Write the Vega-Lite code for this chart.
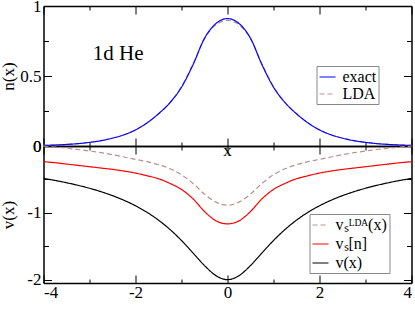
{
  "$schema": "https://vega.github.io/schema/vega-lite/v6.json",
  "padding": {"left": -0.5, "top": -3, "right": 5, "bottom": 2},
  "spacing": 0,
  "bounds": "flush",
  "config": {
    "font": "Liberation Serif",
    "view": {"stroke": null},
    "axis": {
      "grid": false,
      "labelFont": "Liberation Serif",
      "labelFontSize": 17,
      "labelColor": "black",
      "titleFont": "Liberation Serif",
      "titleFontSize": 17,
      "titleFontWeight": "normal",
      "titleColor": "black",
      "tickColor": "black",
      "tickWidth": 1,
      "domainColor": "black",
      "domainWidth": 1.5
    },
    "legend": {
      "labelFont": "Liberation Serif",
      "labelFontSize": 16,
      "labelColor": "black",
      "strokeColor": "#888888",
      "fillColor": "white",
      "padding": 2,
      "symbolType": "stroke",
      "symbolSize": 256,
      "symbolStrokeWidth": 1.2,
      "labelOffset": 6,
      "cornerRadius": 0
    }
  },
  "datasets": {
    "d": [
      {"x": -4, "exact": 0.004, "LDA": 0.004, "v": -0.4851, "vs": -0.235, "vlda": -0.003},
      {"x": -3.75, "exact": 0.007, "LDA": 0.007, "v": -0.5153, "vs": -0.25, "vlda": -0.015},
      {"x": -3.5, "exact": 0.011, "LDA": 0.011, "v": -0.5494, "vs": -0.27, "vlda": -0.032},
      {"x": -3.25, "exact": 0.017, "LDA": 0.017, "v": -0.5881, "vs": -0.29, "vlda": -0.052},
      {"x": -3, "exact": 0.026, "LDA": 0.026, "v": -0.6325, "vs": -0.31, "vlda": -0.075},
      {"x": -2.75, "exact": 0.038, "LDA": 0.038, "v": -0.6835, "vs": -0.33, "vlda": -0.1},
      {"x": -2.5, "exact": 0.056, "LDA": 0.056, "v": -0.7428, "vs": -0.35, "vlda": -0.13},
      {"x": -2.25, "exact": 0.08, "LDA": 0.08, "v": -0.8122, "vs": -0.375, "vlda": -0.165},
      {"x": -2, "exact": 0.115, "LDA": 0.115, "v": -0.8944, "vs": -0.405, "vlda": -0.2},
      {"x": -1.75, "exact": 0.165, "LDA": 0.165, "v": -0.9923, "vs": -0.445, "vlda": -0.235},
      {"x": -1.5, "exact": 0.23, "LDA": 0.23, "v": -1.1094, "vs": -0.49, "vlda": -0.28},
      {"x": -1.25, "exact": 0.31, "LDA": 0.31, "v": -1.2494, "vs": -0.56, "vlda": -0.34},
      {"x": -1, "exact": 0.42, "LDA": 0.425, "v": -1.4142, "vs": -0.65, "vlda": -0.43},
      {"x": -0.75, "exact": 0.58, "LDA": 0.585, "v": -1.6, "vs": -0.79, "vlda": -0.56},
      {"x": -0.5, "exact": 0.77, "LDA": 0.765, "v": -1.7889, "vs": -0.98, "vlda": -0.72},
      {"x": -0.25, "exact": 0.875, "LDA": 0.866, "v": -1.9403, "vs": -1.12, "vlda": -0.84},
      {"x": 0, "exact": 0.91, "LDA": 0.897, "v": -2, "vs": -1.165, "vlda": -0.885},
      {"x": 0.25, "exact": 0.875, "LDA": 0.866, "v": -1.9403, "vs": -1.12, "vlda": -0.84},
      {"x": 0.5, "exact": 0.77, "LDA": 0.765, "v": -1.7889, "vs": -0.98, "vlda": -0.72},
      {"x": 0.75, "exact": 0.58, "LDA": 0.585, "v": -1.6, "vs": -0.79, "vlda": -0.56},
      {"x": 1, "exact": 0.42, "LDA": 0.425, "v": -1.4142, "vs": -0.65, "vlda": -0.43},
      {"x": 1.25, "exact": 0.31, "LDA": 0.31, "v": -1.2494, "vs": -0.56, "vlda": -0.34},
      {"x": 1.5, "exact": 0.23, "LDA": 0.23, "v": -1.1094, "vs": -0.49, "vlda": -0.28},
      {"x": 1.75, "exact": 0.165, "LDA": 0.165, "v": -0.9923, "vs": -0.445, "vlda": -0.235},
      {"x": 2, "exact": 0.115, "LDA": 0.115, "v": -0.8944, "vs": -0.405, "vlda": -0.2},
      {"x": 2.25, "exact": 0.08, "LDA": 0.08, "v": -0.8122, "vs": -0.375, "vlda": -0.165},
      {"x": 2.5, "exact": 0.056, "LDA": 0.056, "v": -0.7428, "vs": -0.35, "vlda": -0.13},
      {"x": 2.75, "exact": 0.038, "LDA": 0.038, "v": -0.6835, "vs": -0.33, "vlda": -0.1},
      {"x": 3, "exact": 0.026, "LDA": 0.026, "v": -0.6325, "vs": -0.31, "vlda": -0.075},
      {"x": 3.25, "exact": 0.017, "LDA": 0.017, "v": -0.5881, "vs": -0.29, "vlda": -0.052},
      {"x": 3.5, "exact": 0.011, "LDA": 0.011, "v": -0.5494, "vs": -0.27, "vlda": -0.032},
      {"x": 3.75, "exact": 0.007, "LDA": 0.007, "v": -0.5153, "vs": -0.25, "vlda": -0.015},
      {"x": 4, "exact": 0.004, "LDA": 0.004, "v": -0.4851, "vs": -0.235, "vlda": -0.003}
    ],
    "lab1": [{"x": -2.93, "y": 0.66, "t": "1d He"}],
    "lab2": [{"x": 0, "y": 0, "t": "x"}]
  },
  "resolve": {"scale": {"color": "independent", "strokeDash": "independent"}},
  "vconcat": [
    {
      "width": 368,
      "height": 140,
      "resolve": {"axis": {"x": "independent", "y": "independent"}},
      "layer": [
        {
          "data": {"name": "d"},
          "transform": [{"fold": ["LDA", "exact"], "as": ["s", "y"]}],
          "mark": {"type": "line", "interpolate": "monotone", "strokeWidth": 1.2},
          "encoding": {
            "x": {"field": "x", "type": "quantitative", "scale": {"domain": [-4, 4], "nice": false},
              "axis": {"orient": "bottom", "title": null, "labels": false, "values": [-4, -3, -2, -1, 0, 1, 2, 3, 4],
                "tickSize": {"condition": {"test": "datum.value % 2 === 0", "value": -8}, "value": -4}}},
            "y": {"field": "y", "type": "quantitative", "scale": {"domain": [0, 1], "nice": false, "zero": false},
              "axis": {"orient": "left", "title": "n(x)", "titlePadding": 2, "labelPadding": 10.5, "values": [0, 0.25, 0.5, 0.75, 1],
                "labelExpr": "datum.value == 0 ? '0' : datum.value == 0.5 ? '0.5' : datum.value == 1 ? '1' : ''",
                "tickSize": {"condition": {"test": "datum.value == 0 || datum.value == 0.5 || datum.value == 1", "value": -8}, "value": -5}}},
            "color": {"field": "s", "type": "nominal",
              "scale": {"domain": ["exact", "LDA"], "range": ["#0000ff", "#bc8f8f"]},
              "legend": {"title": null, "orient": "none", "legendX": 273, "legendY": 60, "rowPadding": -1}},
            "strokeDash": {"field": "s", "type": "nominal",
              "scale": {"domain": ["exact", "LDA"], "range": [[1, 0], [5, 3]]},
              "legend": {"title": null, "orient": "none", "legendX": 273, "legendY": 60, "rowPadding": -1}}
          }
        },
        {
          "data": {"name": "lab1"},
          "mark": {"type": "text", "align": "left", "baseline": "middle", "fontSize": 21, "font": "Liberation Serif", "color": "black"},
          "encoding": {
            "x": {"field": "x", "type": "quantitative",
              "axis": {"orient": "top", "title": null, "labels": false, "values": [-4, -3, -2, -1, 0, 1, 2, 3, 4],
                "tickSize": {"condition": {"test": "datum.value % 2 === 0", "value": -8}, "value": -4}}},
            "y": {"field": "y", "type": "quantitative",
              "axis": {"orient": "right", "title": null, "labels": false, "values": [0, 0.25, 0.5, 0.75, 1],
                "tickSize": {"condition": {"test": "datum.value == 0.5", "value": -8}, "value": -5}}},
            "text": {"field": "t"}
          }
        }
      ]
    },
    {
      "width": 368,
      "height": 137,
      "resolve": {"axis": {"x": "independent", "y": "independent"}},
      "layer": [
        {
          "data": {"name": "d"},
          "transform": [{"fold": ["vlda", "vs", "v"], "as": ["s", "y"]}],
          "mark": {"type": "line", "interpolate": "monotone", "strokeWidth": 1.2},
          "encoding": {
            "x": {"field": "x", "type": "quantitative", "scale": {"domain": [-4, 4], "nice": false},
              "axis": {"orient": "bottom", "title": null, "labelPadding": 9.5, "values": [-4, -3, -2, -1, 0, 1, 2, 3, 4],
                "labelExpr": "datum.value % 2 === 0 ? replace(datum.label, '\u2212', '-') : ''",
                "tickSize": {"condition": {"test": "datum.value % 2 === 0", "value": -8}, "value": -4}}},
            "y": {"field": "y", "type": "quantitative", "scale": {"domain": [-2.05, 0], "nice": false, "zero": false},
              "axis": {"orient": "left", "title": "v(x)", "titlePadding": 9, "labelPadding": 10.5, "values": [-2, -1.5, -1, -0.5, 0],
                "labelExpr": "datum.value == 0 ? '0' : datum.value == -1 ? '-1' : datum.value == -2 ? '-2' : ''",
                "tickSize": {"condition": {"test": "datum.value % 1 === 0", "value": -8}, "value": -5}}},
            "color": {"field": "s", "type": "nominal",
              "scale": {"domain": ["vlda", "vs", "v"], "range": ["#bc8f8f", "#ff0000", "#000000"]},
              "legend": {"title": null, "orient": "none", "legendX": 266, "legendY": 68, "rowPadding": 2,
                "labelExpr": "datum.value == 'vlda' ? 'v\u209b\u1d38\u1d30\u1d2c(x)' : datum.value == 'vs' ? 'v\u209b[n]' : 'v(x)'"}},
            "strokeDash": {"field": "s", "type": "nominal",
              "scale": {"domain": ["vlda", "vs", "v"], "range": [[5, 3], [1, 0], [1, 0]]},
              "legend": {"title": null, "orient": "none", "legendX": 266, "legendY": 68, "rowPadding": 2,
                "labelExpr": "datum.value == 'vlda' ? 'v\u209b\u1d38\u1d30\u1d2c(x)' : datum.value == 'vs' ? 'v\u209b[n]' : 'v(x)'"}}
          }
        },
        {
          "data": {"name": "lab2"},
          "mark": {"type": "text", "align": "center", "baseline": "alphabetic", "dy": 10, "fontSize": 17, "font": "Liberation Serif", "color": "black"},
          "encoding": {
            "x": {"field": "x", "type": "quantitative",
              "axis": {"orient": "top", "title": null, "labels": false, "values": [-4, -3, -2, -1, 0, 1, 2, 3, 4],
                "tickSize": {"condition": {"test": "datum.value % 2 === 0", "value": -8}, "value": -4}}},
            "y": {"field": "y", "type": "quantitative",
              "axis": {"orient": "right", "title": null, "labels": false, "values": [-2, -1.5, -1, -0.5, 0],
                "tickSize": {"condition": {"test": "datum.value % 1 === 0", "value": -8}, "value": -5}}},
            "text": {"field": "t"}
          }
        }
      ]
    }
  ]
}
